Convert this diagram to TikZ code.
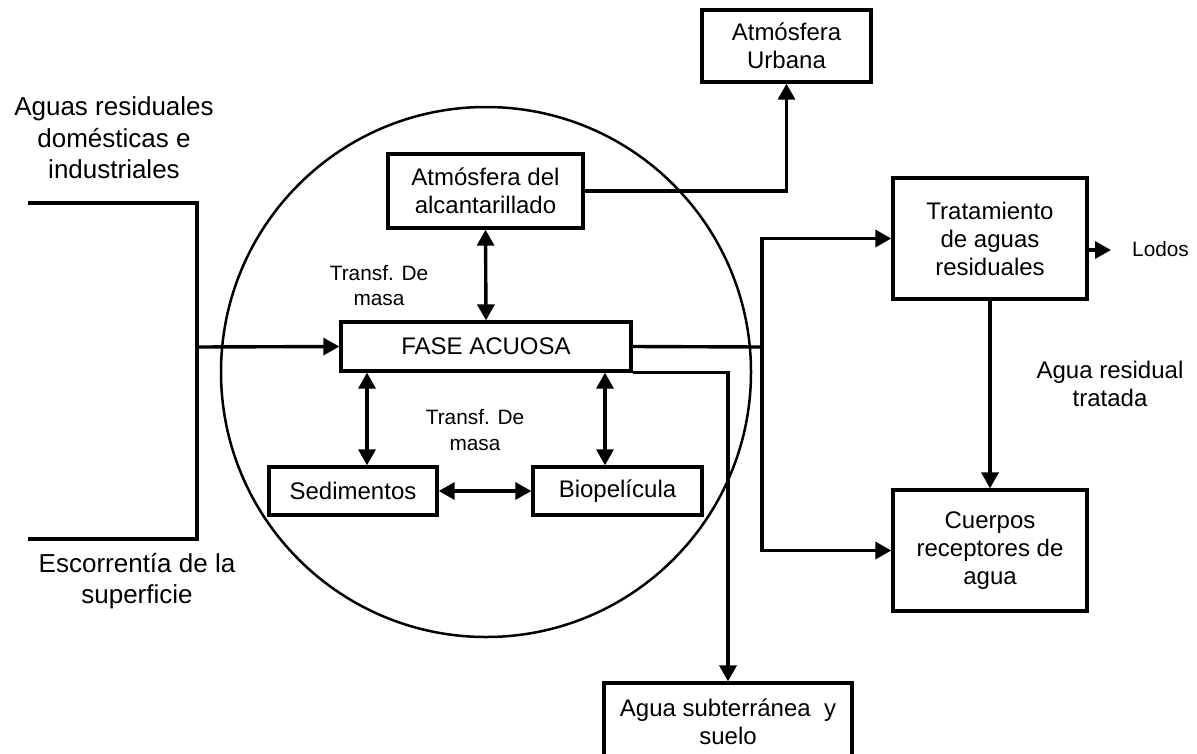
\documentclass[tikz,border=0pt]{standalone}
\usepackage{fontspec}
\setmainfont{Liberation Sans}
\usetikzlibrary{arrows.meta}
\newcommand\fntbig{\fontsize{26}{31.5}\selectfont}
\newcommand\fntbox{\fontsize{24}{28}\selectfont}
\newcommand\fntsmall{\fontsize{20.8}{25.5}\selectfont}
\begin{document}
\begin{tikzpicture}[x=1pt,y=-1pt,
  boxnode/.style={draw, line width=3.3pt, fill=white, align=center, font=\fntbox, inner sep=0pt},
  lbl/.style={align=center, inner sep=0pt},
  conn/.style={line width=3.4pt},
  arr/.style={conn, -{Triangle[length=16pt,width=17pt]}},
  dbl/.style={conn, {Triangle[length=16pt,width=17pt]}-{Triangle[length=16pt,width=17pt]}},
  circ/.style={line width=2.5pt}]
\useasboundingbox (0,0) rectangle (1197,753);
\clip (0,0) rectangle (1197,753);

% circle
\draw[circ] (486,372) circle[radius=265pt];

% boxes
\node[boxnode, minimum width=169pt, minimum height=72pt] (atmU) at (786.5,46) {Atmósfera\\Urbana};
\node[boxnode, minimum width=195pt, minimum height=74pt] (atmA) at (485.5,191) {Atmósfera del\\alcantarillado};
\node[boxnode, minimum width=290pt, minimum height=49pt] (fase) at (486,346.5) {FASE ACUOSA};
\node[boxnode, minimum width=168pt, minimum height=48pt] (sed) at (353,491) {Sedimentos};
\node[boxnode, minimum width=169pt, minimum height=48pt] (bio) at (617.5,491) {Biopelícula};
\node[boxnode, minimum width=194pt, minimum height=121pt] (trat) at (990,238.5) {Tratamiento\\de aguas\\residuales};
\node[boxnode, minimum width=194pt, minimum height=121pt] (cuer) at (990,550.5) {Cuerpos\\receptores de\\agua};
\node[boxnode, minimum width=248pt, minimum height=78pt] (agua) at (728,722) {Agua subterránea~ y\\suelo};

% labels
\node[lbl, font=\fntbig] (aguasres) at (114,138) {Aguas residuales\\domésticas e\\industriales};
\node[lbl, font=\fntbig] (escorr) at (137,581) {Escorrentía de la\\superficie};
\node[lbl, font=\fntsmall] (tm1) at (379,285.5) {Transf. De\\masa};
\node[lbl, font=\fntsmall] (tm2) at (475,430) {Transf. De\\masa};
\node[lbl, font=\fntbox] (artr) at (1110,383.5) {Agua residual\\tratada};
\node[lbl, font=\fntsmall, anchor=west] (lodos) at (1132,249) {Lodos};

% coordinates
\coordinate (tl) at (28,203);
\coordinate (tj) at (197,203);
\coordinate (bj) at (197,539);
\coordinate (bl) at (28,539);
\coordinate (mj) at (197,347);
\coordinate (jct) at (762,347);
\coordinate (sx) at (367,0);
\coordinate (bx) at (605,0);
\coordinate (lodostip) at (1111,250);

% connectors
\draw[conn] (tl) -- (tj) -- (bj) -- (bl);
\draw[arr] (mj) -- (fase.west);
\draw[dbl] (atmA.south) -- (fase.north);
\draw[dbl] (fase.south -| sx) -- (sed.north -| sx);
\draw[dbl] (fase.south -| bx) -- (bio.north -| bx);
\draw[dbl] (sed.east) -- (bio.west);
\draw[conn] (fase.east) -- (jct);
\draw[arr] (jct) |- (trat.west);
\draw[arr] (jct) |- (cuer.west);
\draw[arr] (fase.south east) -| (agua.north);
\draw[arr] (trat.south) -- (cuer.north);
\draw[arr] (trat.east |- lodostip) -- (lodostip);
\draw[arr] (atmA.east) -| (atmU.south);
\end{tikzpicture}
\end{document}
